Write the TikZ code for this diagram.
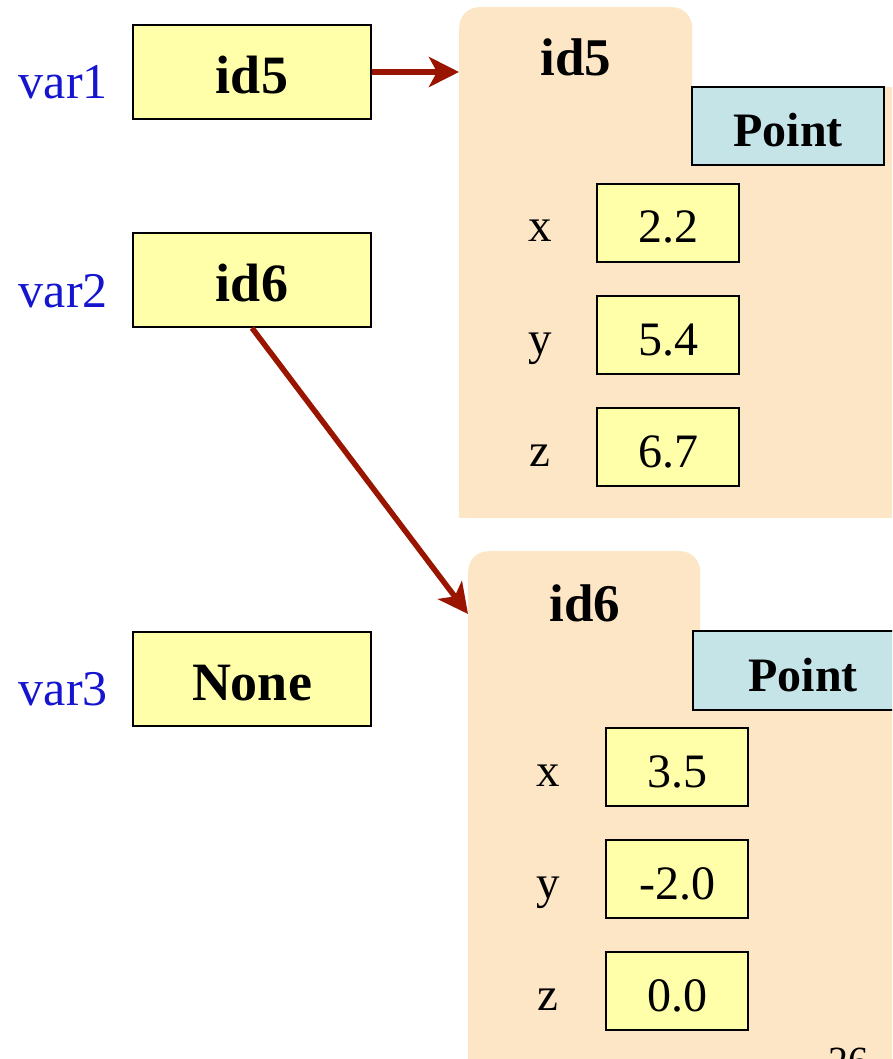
\documentclass[tikz,border=0pt]{standalone}
\usepackage{fontspec}
\setmainfont{Liberation Serif}
\usetikzlibrary{arrows.meta}
\definecolor{folderc}{HTML}{FDE6C6}
\definecolor{yellowc}{HTML}{FFFFAA}
\definecolor{pointc}{HTML}{C4E4E8}
\definecolor{arrowc}{HTML}{991500}
\definecolor{varc}{HTML}{1515D0}
\begin{document}
\begin{tikzpicture}[x=1pt,y=-1pt,
  varbox/.style={draw=black,line width=2pt,fill=yellowc,minimum width=238pt,minimum height=94pt,inner sep=0pt,text height=43pt,text depth=0pt,font=\bfseries\fontsize{54}{62}\selectfont},
  valbox/.style={draw=black,line width=2pt,fill=yellowc,minimum width=142pt,minimum height=78pt,inner sep=0pt,text height=40pt,text depth=0pt,font=\fontsize{48}{56}\selectfont},
  typebox/.style={draw=black,line width=2pt,fill=pointc,inner sep=0pt,text height=42pt,text depth=0pt,font=\bfseries\fontsize{48}{56}\selectfont},
  tabshape/.style={fill=folderc,rounded corners=20pt,inner sep=0pt,anchor=north west},
  varlabel/.style={text=varc,anchor=base east,inner sep=0pt,font=\fontsize{50}{60}\selectfont},
  fieldlabel/.style={anchor=base,inner sep=0pt,font=\fontsize{47}{54}\selectfont},
  idlabel/.style={anchor=base,inner sep=0pt,font=\bfseries\fontsize{53}{60}\selectfont},
  ptr/.style={draw=arrowc,line width=5.5pt,-{Stealth[length=30pt,width=30pt,inset=8pt]}}]
\useasboundingbox (0,0) rectangle (892,1059);
\clip (0,0) rectangle (892,1059);
% folder 1
\node[tabshape,minimum width=233pt,minimum height=511pt] (f1) at (459,7) {};
\fill[folderc] (459,87) rectangle (900,518);
\node[idlabel] (f1id) at (576,76) {id5};
\node[typebox,minimum width=192pt,minimum height=78pt] (p1) at (788,126) {Point};
\node[valbox] (a1) at (668,223) {2.2};
\node[valbox] (b1) at (668,335) {5.4};
\node[valbox] (c1) at (668,447) {6.7};
\node[fieldlabel] (ax) at (540,242) {x};
\node[fieldlabel] (by) at (540,354) {y};
\node[fieldlabel] (cz) at (540,466) {z};
% folder 2
\node[tabshape,minimum width=232pt,minimum height=600pt] (f2) at (468,551) {};
\fill[folderc] (468,630) rectangle (900,1100);
\node[idlabel] (f2id) at (585,621) {id6};
\node[typebox,minimum width=220pt,minimum height=79pt,anchor=west,text width=200pt,align=center] (p2) at (692,670.5) {Point};
\node[valbox] (a2) at (677,767) {3.5};
\node[valbox] (b2) at (677,879) {-2.0};
\node[valbox] (c2) at (677,991) {0.0};
\node[fieldlabel] (ax2) at (548,786) {x};
\node[fieldlabel] (by2) at (548,898) {y};
\node[fieldlabel] (cz2) at (548,1010) {z};
\node[anchor=north,inner sep=0pt,font=\fontsize{40}{48}\selectfont] (pg) at (848,1048) {26};
% variables
\node[varbox] (v1) at (252,72) {id5};
\node[varbox] (v2) at (252,280) {id6};
\node[varbox] (v3) at (252,679) {None};
\node[varlabel] (l1) at (108,99) {var1};
\node[varlabel] (l2) at (108,307) {var2};
\node[varlabel] (l3) at (108,705) {var3};
% pointers
\draw[ptr] (v1.east) -- (v1.east -| f1.west);
\draw[ptr] (v2.south) -- ([yshift=-63pt]f2.north west);
\end{tikzpicture}
\end{document}
